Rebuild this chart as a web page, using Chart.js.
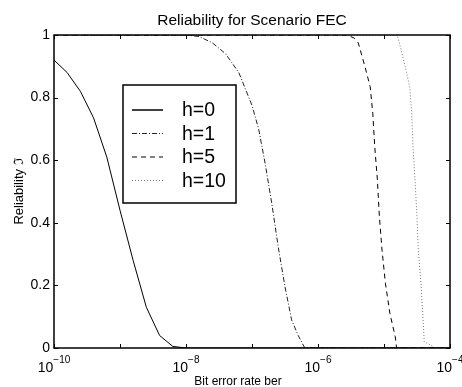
<!DOCTYPE html>
<html>
<head>
<meta charset="utf-8">
<script src="https://cdn.jsdelivr.net/npm/chart.js@4.4.0/dist/chart.umd.min.js"></script>
<style>
  html, body { margin: 0; padding: 0; background: #fff; }
  #chart { display: block; }
</style>
</head>
<body>
<canvas id="chart" width="462" height="387"></canvas>
<script>
const FONT = "'Liberation Sans', Arial, Helvetica, sans-serif";

const chartTitle = 'Reliability for Scenario FEC';
const seriesLabels = ['h=0', 'h=1', 'h=5', 'h=10'];

// h=0
const ber0 = [1e-10, 1.58e-10, 2.51e-10, 3.98e-10, 6.31e-10, 1e-9, 1.58e-9, 2.51e-9, 3.98e-9, 6.31e-9, 1e-8, 1e-4];
const rel0 = [0.92, 0.88, 0.82, 0.735, 0.61, 0.44, 0.28, 0.13, 0.04, 0.005, 0, 0];

// h=1
const ber1 = [1e-10, 1e-9, 1e-8, 1.58e-8, 2.51e-8, 3.98e-8, 6.31e-8, 1e-7, 1.26e-7, 1.58e-7, 2e-7, 2.51e-7, 3.16e-7, 3.98e-7, 5.01e-7, 6.31e-7, 1e-4];
const rel1 = [1, 1, 1, 0.995, 0.975, 0.94, 0.88, 0.775, 0.70, 0.59, 0.46, 0.32, 0.196, 0.09, 0.04, 0, 0];

// h=5
const ber5 = [1e-10, 1e-6, 2.75e-6, 3.55e-6, 4.07e-6, 5.13e-6, 6.17e-6, 6.76e-6, 7.24e-6, 7.94e-6, 8.51e-6, 9.33e-6, 1.05e-5, 1.23e-5, 1.48e-5, 1.55e-5, 1e-4];
const rel5 = [1, 1, 1, 0.99, 0.975, 0.90, 0.835, 0.75, 0.643, 0.537, 0.42, 0.313, 0.207, 0.11, 0.036, 0, 0];

// h=10
const ber10 = [1e-10, 1.58e-5, 1.66e-5, 2.09e-5, 2.45e-5, 2.63e-5, 2.75e-5, 2.95e-5, 3.16e-5, 3.31e-5, 3.63e-5, 3.89e-5, 4.07e-5, 5.01e-5, 5.89e-5, 1e-4];
const rel10 = [1, 1, 0.985, 0.90, 0.835, 0.75, 0.643, 0.537, 0.42, 0.313, 0.207, 0.10, 0.02, 0.01, 0, 0];

const xTickValues = [1e-10, 1e-9, 1e-8, 1e-7, 1e-6, 1e-5, 1e-4];
const xTickExp = ['\u221210', '', '\u22128', '', '\u22126', '', '\u22124'];
const yTicks = [0, 0.2, 0.4, 0.6, 0.8, 1];
const yTickLabels = ['0', '0.2', '0.4', '0.6', '0.8', '1'];

const pts = (xs, ys) => xs.map((v, i) => ({ x: v, y: ys[i] }));

const styles = [
  { color: '#000', dash: [] },
  { color: '#222', dash: [5, 2, 1, 2] },
  { color: '#000', dash: [5, 4] },
  { color: '#777', dash: [1, 2] },
];

const allData = [pts(ber0, rel0), pts(ber1, rel1), pts(ber5, rel5), pts(ber10, rel10)];

// box, inward ticks, x tick labels, titles
const frame = {
  id: 'frame',
  afterDatasetsDraw(chart) {
    const { ctx, chartArea: a, scales: { x, y } } = chart;
    ctx.save();
    ctx.strokeStyle = '#000';
    ctx.lineWidth = 1;
    ctx.beginPath();
    xTickValues.forEach(v => {
      const px = Math.round(x.getPixelForValue(v)) + 0.5;
      ctx.moveTo(px, a.bottom); ctx.lineTo(px, a.bottom - 4);
      ctx.moveTo(px, a.top); ctx.lineTo(px, a.top + 4);
    });
    yTicks.forEach(v => {
      const py = Math.round(y.getPixelForValue(v)) + 0.5;
      ctx.moveTo(a.left, py); ctx.lineTo(a.left + 4, py);
      ctx.moveTo(a.right, py); ctx.lineTo(a.right - 4, py);
    });
    ctx.stroke();
    ctx.lineWidth = 1.5;
    ctx.strokeRect(a.left, a.top, a.right - a.left, a.bottom - a.top);

    ctx.fillStyle = '#000';
    ctx.textBaseline = 'alphabetic';
    ctx.textAlign = 'left';
    xTickValues.forEach((v, i) => {
      if (!xTickExp[i]) return;
      const px = x.getPixelForValue(v);
      ctx.font = '14px ' + FONT;
      const wb = ctx.measureText('10').width;
      ctx.font = '10px ' + FONT;
      const we = ctx.measureText(xTickExp[i]).width;
      const left = px - (wb + we) / 2;
      ctx.font = '14px ' + FONT;
      ctx.fillText('10', left, a.bottom + 24);
      ctx.font = '10px ' + FONT;
      ctx.fillText(xTickExp[i], left + wb, a.bottom + 15);
    });

    ctx.textAlign = 'center';
    ctx.font = '12px ' + FONT;
    ctx.fillText('Bit error rate ber', (a.left + a.right) / 2 - 14, a.bottom + 37);
    ctx.font = '15.5px ' + FONT;
    ctx.fillText(chartTitle, (a.left + a.right) / 2, a.top - 10);
    ctx.restore();
  }
};

// legend box inside the axes
const boxLegend = {
  id: 'boxLegend',
  afterDraw(chart) {
    const { ctx, chartArea: a } = chart;
    const bx = a.left + 69, by = a.top + 50, bw = 113, bh = 118;
    ctx.save();
    ctx.fillStyle = '#fff';
    ctx.fillRect(bx, by, bw, bh);
    ctx.strokeStyle = '#000';
    ctx.lineWidth = 1.5;
    ctx.strokeRect(bx, by, bw, bh);
    chart.data.datasets.forEach((ds, i) => {
      const ry = by + 25 + i * 23.5;
      ctx.strokeStyle = ds.borderColor;
      ctx.lineWidth = i === 0 ? 1.5 : 1;
      ctx.setLineDash(ds.borderDash);
      ctx.beginPath();
      ctx.moveTo(bx + 9, ry);
      ctx.lineTo(bx + 40, ry);
      ctx.stroke();
      ctx.setLineDash([]);
      ctx.fillStyle = '#000';
      ctx.font = '19.5px ' + FONT;
      ctx.textAlign = 'left';
      ctx.textBaseline = 'middle';
      ctx.fillText(ds.label, bx + 59, ry + 1);
    });
    ctx.restore();
  }
};

new Chart(document.getElementById('chart'), {
  type: 'line',
  data: {
    datasets: seriesLabels.map((label, i) => ({
      label,
      data: allData[i],
      borderColor: styles[i].color,
      borderDash: styles[i].dash,
      borderWidth: 1,
      pointRadius: 0,
      tension: 0,
      fill: false,
    }))
  },
  options: {
    responsive: false,
    animation: false,
    devicePixelRatio: 1,
    layout: { padding: { left: 0, right: 12, top: 35, bottom: 0 } },
    plugins: {
      legend: { display: false },
      tooltip: { enabled: false },
      title: { display: false },
    },
    scales: {
      x: {
        type: 'logarithmic',
        min: 1e-10,
        max: 1e-4,
        grid: { display: false, drawTicks: false },
        border: { display: false },
        ticks: { display: false },
        afterFit: (s) => { s.height = 39; },
      },
      y: {
        min: 0,
        max: 1,
        grid: { display: false, drawTicks: false },
        border: { display: false },
        afterBuildTicks: (s) => { s.ticks = yTicks.map(v => ({ value: v })); },
        ticks: {
          color: '#000',
          padding: 4,
          font: { family: FONT, size: 14 },
          callback: (v, i) => yTickLabels[i],
        },
        title: {
          display: true,
          text: 'Reliability \u2111',
          color: '#000',
          font: { family: FONT, size: 13 },
          padding: { top: 12, bottom: 0 },
        },
        afterFit: (s) => { s.width = 54; },
      },
    },
  },
  plugins: [frame, boxLegend],
});
</script>
</body>
</html>
